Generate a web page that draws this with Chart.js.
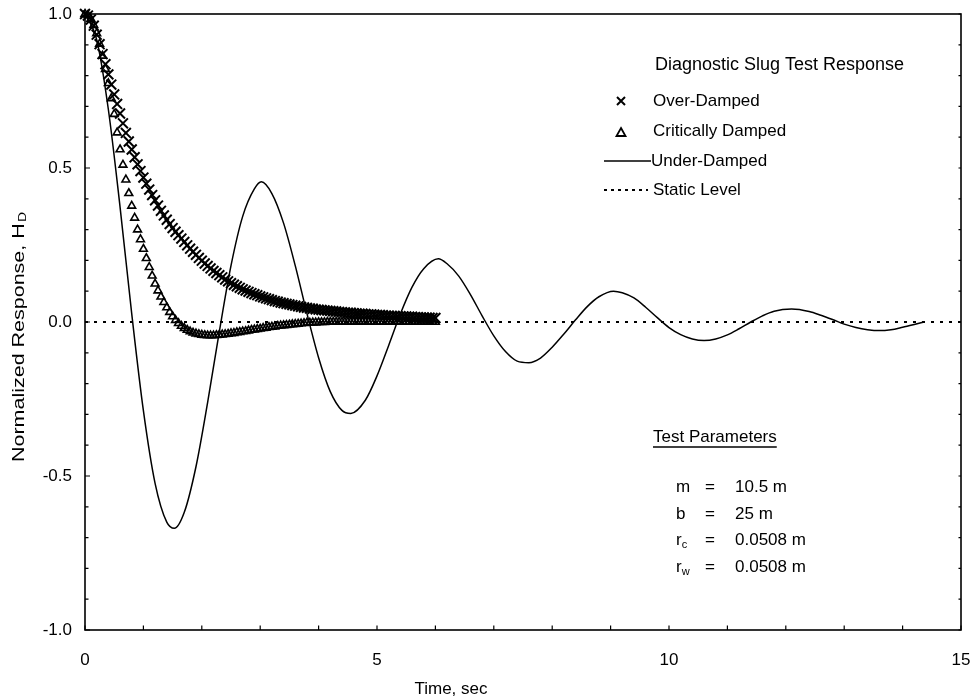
<!DOCTYPE html>
<html>
<head>
<meta charset="utf-8">
<style>
  html, body { margin: 0; padding: 0; background: #fff; }
  #wrap { width: 975px; height: 699px; }
</style>
</head>
<body>
<div id="wrap"><canvas id="slugChart" width="975" height="699"></canvas></div>

<script src="https://cdn.jsdelivr.net/npm/chart.js@4"></script>
<script>
// sample times of the marker series (sec)
const markerTime = [
  0.00,0.05,0.10,0.15,0.20,0.25,0.30,0.35,0.40,0.45,0.50,0.55,0.60,0.65,0.70,0.75,0.80,0.85,0.90,0.95,
  1.00,1.05,1.10,1.15,1.20,1.25,1.30,1.35,1.40,1.45,1.50,1.55,1.60,1.65,1.70,1.75,1.80,1.85,1.90,1.95,
  2.00,2.05,2.10,2.15,2.20,2.25,2.30,2.35,2.40,2.45,2.50,2.55,2.60,2.65,2.70,2.75,2.80,2.85,2.90,2.95,
  3.00,3.05,3.10,3.15,3.20,3.25,3.30,3.35,3.40,3.45,3.50,3.55,3.60,3.65,3.70,3.75,3.80,3.85,3.90,3.95,
  4.00,4.05,4.10,4.15,4.20,4.25,4.30,4.35,4.40,4.45,4.50,4.55,4.60,4.65,4.70,4.75,4.80,4.85,4.90,4.95,
  5.00,5.05,5.10,5.15,5.20,5.25,5.30,5.35,5.40,5.45,5.50,5.55,5.60,5.65,5.70,5.75,5.80,5.85,5.90,5.95,
  6.00
];

// normalized response, over-damped (x markers)
const overDamped = [
  1.000,0.995,0.982,0.962,0.933,0.902,0.870,0.837,0.804,0.771,0.739,0.708,0.677,0.645,0.614,0.586,0.560,0.535,0.512,0.490,
  0.469,0.449,0.430,0.412,0.395,0.378,0.361,0.346,0.332,0.318,0.305,0.293,0.282,0.271,0.260,0.249,0.238,0.228,0.218,0.208,
  0.199,0.190,0.182,0.174,0.166,0.159,0.152,0.145,0.138,0.132,0.126,0.121,0.116,0.111,0.106,0.102,0.098,0.094,0.090,0.087,
  0.083,0.080,0.077,0.074,0.071,0.068,0.066,0.063,0.061,0.059,0.057,0.055,0.053,0.051,0.049,0.047,0.046,0.044,0.043,0.041,
  0.040,0.039,0.038,0.037,0.036,0.035,0.034,0.033,0.032,0.031,0.030,0.030,0.029,0.028,0.027,0.027,0.026,0.025,0.025,0.024,
  0.023,0.023,0.022,0.021,0.021,0.020,0.020,0.019,0.019,0.018,0.018,0.017,0.017,0.016,0.016,0.015,0.015,0.014,0.014,0.013,
  0.013
];

// normalized response, critically damped (triangles)
const critDamped = [
  1.000,0.996,0.984,0.964,0.937,0.903,0.864,0.821,0.775,0.726,0.675,0.615,0.560,0.510,0.462,0.418,0.377,0.338,0.300,0.268,
  0.237,0.207,0.178,0.150,0.124,0.102,0.082,0.064,0.047,0.032,0.018,0.006,-0.004,-0.013,-0.020,-0.026,-0.031,-0.035,-0.038,-0.040,
  -0.042,-0.043,-0.044,-0.044,-0.044,-0.043,-0.042,-0.041,-0.040,-0.039,-0.037,-0.036,-0.034,-0.033,-0.031,-0.030,-0.028,-0.026,-0.025,-0.023,
  -0.022,-0.020,-0.019,-0.017,-0.016,-0.015,-0.013,-0.012,-0.011,-0.010,-0.009,-0.008,-0.007,-0.006,-0.005,-0.004,-0.003,-0.003,-0.002,-0.002,
  -0.001,-0.001,-0.001,0,0,0,0,0,0,0,0,0,0,0,0,0,0,0,0,0,
  0,0,0,0,0,0,0,0,0,0,0,0,0,0,0,0,0,0,0,0,
  0
];

// under-damped curve (solid line)
const underTime = [
  0.0,0.2,0.4,0.6,0.8,1.0,1.2,1.4,1.53,1.7,1.9,2.1,2.3,2.5,2.7,2.9,3.02,3.2,3.4,3.6,3.8,
  4.0,4.2,4.4,4.55,4.8,5.0,5.2,5.4,5.6,5.8,6.05,6.2,6.4,6.6,6.8,7.0,7.2,7.4,7.6,7.8,
  8.0,8.2,8.4,8.6,8.8,9.05,9.2,9.4,9.6,9.8,10.0,10.2,10.4,10.6,10.8,11.0,11.2,11.4,11.6,11.8,
  12.1,12.4,12.6,12.8,13.0,13.2,13.4,13.6,13.8,14.0,14.2,14.37
];
const underDamped = [
  1.000,0.917,0.690,0.374,0.027,-0.288,-0.524,-0.650,-0.670,-0.618,-0.470,-0.261,-0.031,0.183,0.343,0.432,0.455,0.417,0.321,0.183,0.028,
  -0.116,-0.226,-0.287,-0.297,-0.254,-0.175,-0.076,0.026,0.113,0.173,0.205,0.189,0.149,0.089,0.020,-0.045,-0.096,-0.127,-0.132,-0.117,
  -0.082,-0.039,0.007,0.050,0.082,0.100,0.095,0.078,0.048,0.014,-0.018,-0.041,-0.055,-0.060,-0.055,-0.042,-0.022,0.000,0.020,0.035,
  0.042,0.034,0.022,0.008,-0.007,-0.018,-0.025,-0.028,-0.025,-0.017,-0.008,0.000
];

// static level (dotted)
const staticTime = [0, 15];
const staticLevel = [0, 0];

const FONT = "'Liberation Sans', Arial, Helvetica, sans-serif";

function toPoints(xs, ys) {
  return xs.map((x, i) => ({ x: x, y: ys[i] }));
}

// frame, inward ticks, axis titles, legend and parameter block
const decorations = {
  id: 'decorations',
  afterDraw(chart) {
    const ctx = chart.ctx;
    const a = chart.chartArea;
    const xs = chart.scales.x;
    const ys = chart.scales.y;
    ctx.save();
    ctx.strokeStyle = '#000';
    ctx.fillStyle = '#000';

    // box
    ctx.lineWidth = 1.6;
    ctx.strokeRect(a.left, a.top, a.right - a.left, a.bottom - a.top);

    // y ticks every 0.1, pointing in
    ctx.lineWidth = 1.2;
    for (let i = -10; i <= 10; i++) {
      const py = ys.getPixelForValue(i / 10);
      const len = (i % 5 === 0) ? 5 : 3.5;
      ctx.beginPath();
      ctx.moveTo(a.left, py); ctx.lineTo(a.left + len, py);
      ctx.moveTo(a.right, py); ctx.lineTo(a.right - 2.5, py);
      ctx.stroke();
    }
    // x ticks every second
    for (let t = 0; t <= 15; t++) {
      const px = xs.getPixelForValue(t);
      ctx.beginPath();
      ctx.moveTo(px, a.bottom); ctx.lineTo(px, a.bottom - 4.5);
      ctx.stroke();
    }

    // x title
    ctx.font = '17px ' + FONT;
    ctx.textAlign = 'center';
    ctx.textBaseline = 'middle';
    ctx.fillText('Time, sec', 451, 689);

    // y title with subscript D
    ctx.save();
    ctx.translate(19, 337);
    ctx.rotate(-Math.PI / 2);
    const main = 'Normalized Response, H';
    ctx.font = '17px ' + FONT;
    const wMain = ctx.measureText(main).width;
    ctx.font = '11px ' + FONT;
    const wSub = ctx.measureText('D').width;
    const stretch = 250 / (wMain + wSub + 1);
    ctx.scale(stretch, 1);
    const x0 = -(wMain + wSub + 1) / 2;
    ctx.textAlign = 'left';
    ctx.font = '17px ' + FONT;
    ctx.fillText(main, x0, 0);
    ctx.font = '11px ' + FONT;
    ctx.fillText('D', x0 + wMain + 1, 4);
    ctx.restore();

    // legend
    ctx.textAlign = 'left';
    ctx.textBaseline = 'middle';
    ctx.font = '18px ' + FONT;
    ctx.fillText('Diagnostic Slug Test Response', 655, 65);
    ctx.font = '17px ' + FONT;

    ctx.lineWidth = 2;
    ctx.beginPath();
    ctx.moveTo(617, 97); ctx.lineTo(625, 105);
    ctx.moveTo(625, 97); ctx.lineTo(617, 105);
    ctx.stroke();
    ctx.fillText('Over-Damped', 653, 101);

    ctx.lineWidth = 1.8;
    ctx.beginPath();
    ctx.moveTo(621, 128); ctx.lineTo(625.5, 136); ctx.lineTo(616.5, 136); ctx.closePath();
    ctx.stroke();
    ctx.fillText('Critically Damped', 653, 131);

    ctx.lineWidth = 1.4;
    ctx.beginPath();
    ctx.moveTo(604, 161); ctx.lineTo(651, 161);
    ctx.stroke();
    ctx.fillText('Under-Damped', 651, 161);

    ctx.lineWidth = 2;
    ctx.setLineDash([3, 4]);
    ctx.beginPath();
    ctx.moveTo(604, 190); ctx.lineTo(648, 190);
    ctx.stroke();
    ctx.setLineDash([]);
    ctx.fillText('Static Level', 653, 190);

    // test parameters
    ctx.font = '17px ' + FONT;
    ctx.fillText('Test Parameters', 653, 437);
    const wTP = ctx.measureText('Test Parameters').width;
    ctx.lineWidth = 1.4;
    ctx.beginPath();
    ctx.moveTo(653, 447); ctx.lineTo(653 + wTP, 447);
    ctx.stroke();

    const rows = [
      ['m', '', '10.5 m', 487],
      ['b', '', '25 m', 514],
      ['r', 'c', '0.0508 m', 540],
      ['r', 'w', '0.0508 m', 567]
    ];
    rows.forEach(r => {
      ctx.font = '17px ' + FONT;
      ctx.fillText(r[0], 676, r[3]);
      const w = ctx.measureText(r[0]).width;
      ctx.fillText('=', 705, r[3]);
      ctx.fillText(r[2], 735, r[3]);
      if (r[1]) {
        ctx.font = '11px ' + FONT;
        ctx.fillText(r[1], 676 + w, r[3] + 5);
      }
    });

    ctx.restore();
  }
};

new Chart(document.getElementById('slugChart').getContext('2d'), {
  type: 'scatter',
  data: {
    datasets: [
      {
        label: 'Over-Damped',
        data: toPoints(markerTime, overDamped),
        pointStyle: 'crossRot',
        pointRadius: 7,
        borderColor: '#000',
        backgroundColor: '#000',
        borderWidth: 2,
        clip: false
      },
      {
        label: 'Critically Damped',
        data: toPoints(markerTime, critDamped),
        pointStyle: 'triangle',
        pointRadius: 4.5,
        borderColor: '#000',
        backgroundColor: 'rgba(0,0,0,0)',
        borderWidth: 1.6,
        clip: false
      },
      {
        label: 'Under-Damped',
        data: toPoints(underTime, underDamped),
        showLine: true,
        pointRadius: 0,
        borderColor: '#000',
        borderWidth: 1.5,
        cubicInterpolationMode: 'monotone'
      },
      {
        label: 'Static Level',
        data: toPoints(staticTime, staticLevel),
        showLine: true,
        pointRadius: 0,
        borderColor: '#000',
        borderWidth: 2.2,
        borderDash: [3, 6]
      }
    ]
  },
  options: {
    responsive: false,
    animation: false,
    devicePixelRatio: 1,
    layout: { padding: { top: 14, right: 14, left: 0, bottom: 0 } },
    plugins: {
      legend: { display: false },
      tooltip: { enabled: false }
    },
    scales: {
      x: {
        type: 'linear',
        min: 0,
        max: 15,
        grid: { display: false, drawTicks: false },
        border: { display: false },
        ticks: {
          stepSize: 5,
          padding: 20,
          color: '#000',
          font: { family: FONT, size: 17 }
        },
        afterFit: s => { s.height = 69; s.paddingLeft = 0; s.paddingRight = 0; }
      },
      y: {
        min: -1,
        max: 1,
        grid: { display: false, drawTicks: false },
        border: { display: false },
        ticks: {
          stepSize: 0.5,
          padding: 13,
          color: '#000',
          font: { family: FONT, size: 17 },
          callback: v => v.toFixed(1)
        },
        afterFit: s => { s.width = 85; s.paddingTop = 0; s.paddingBottom = 0; }
      }
    }
  },
  plugins: [decorations]
});
</script>
</body>
</html>
